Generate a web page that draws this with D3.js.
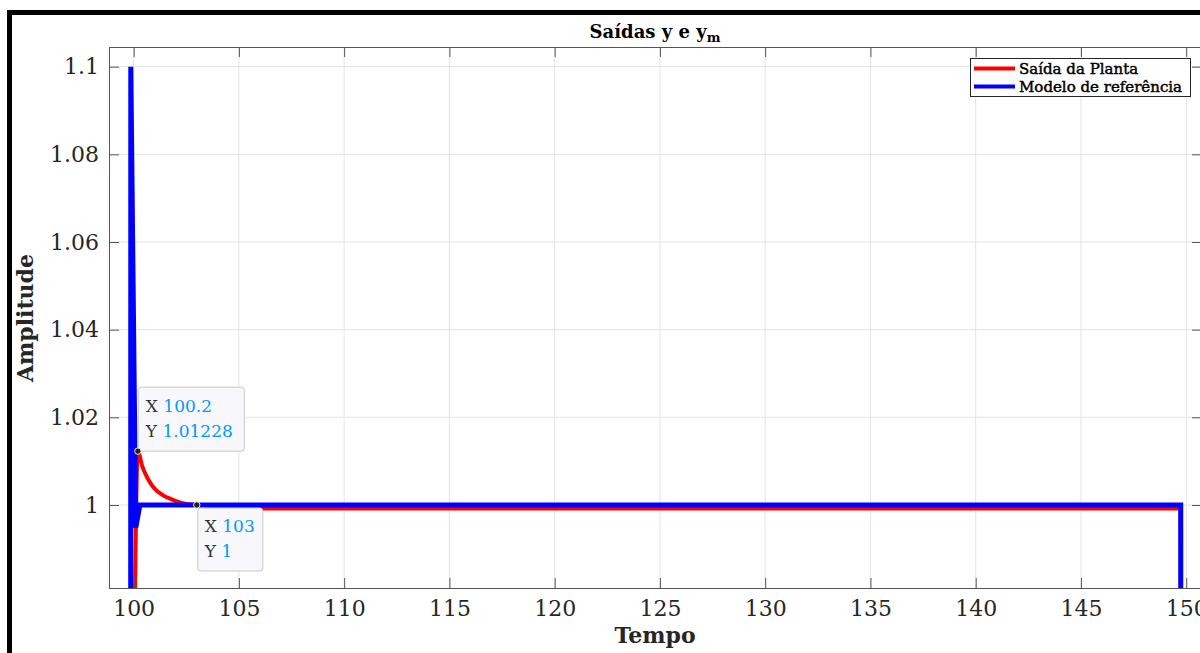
<!DOCTYPE html>
<html>
<head>
<meta charset="utf-8">
<script src="https://cdn.jsdelivr.net/npm/d3@7"></script>
<style>
  html, body { margin: 0; padding: 0; background: #fff; }
  svg { display: block; }
</style>
</head>
<body>
<svg id="chart" width="1200" height="653"></svg>
<script>
// ---- data ----
const plantTime  = [100.0, 100.2, 100.4, 100.6, 100.8, 101.0, 101.4, 101.8, 102.2, 102.6, 103.0, 104.0, 105.0, 106.0, 149.74, 149.745];
const plantValue = [0.95, 1.01228, 1.0090, 1.0067, 1.0050, 1.0037, 1.0022, 1.0013, 1.0006, 1.0002, 1.0, 0.9996, 0.9993, 0.9992, 0.9992, 0.95];
const refTime  = [99.86, 99.865, 100.1, 100.3, 149.74, 149.745];
const refValue = [0.95, 1.1, 0.9948, 1.0, 1.0, 0.95];
const xTicks = [100, 105, 110, 115, 120, 125, 130, 135, 140, 145, 150];
const yTicks = [1.0, 1.02, 1.04, 1.06, 1.08, 1.1];
const yTickLabels = ["1", "1.02", "1.04", "1.06", "1.08", "1.1"];
const seriesNames = ["Saída da Planta", "Modelo de referência"];
const seriesColors = ["#ff0000", "#0000ff"];
const tips = [
  { x: 100.2, y: 1.01228, xs: "100.2", ys: "1.01228" },
  { x: 103, y: 1, xs: "103", ys: "1" }
];

// ---- layout ----
const L = 109, R = 1202, T = 47, B = 588;
const svg = d3.select("#chart");
const x = d3.scaleLinear().domain([98.83, 150.75]).range([L, R]);
const y = d3.scaleLinear().domain([0.98106, 1.10449]).range([B, T]);
const serif = "'DejaVu Serif', serif";
const textCol = "#262626";
const axisCol = "#555";

// outer black frame (top + left)
svg.append("path")
  .attr("d", "M9.5,653 L9.5,12.5 L1200,12.5")
  .attr("fill", "none").attr("stroke", "#000").attr("stroke-width", 5);

// grid
const grid = svg.append("g");
grid.selectAll("line.gx").data(xTicks).join("line")
  .attr("x1", d => x(d)).attr("x2", d => x(d)).attr("y1", T).attr("y2", B)
  .attr("stroke", "#e3e3e3").attr("stroke-width", 1);
grid.selectAll("line.gy").data(yTicks).join("line")
  .attr("y1", d => y(d)).attr("y2", d => y(d)).attr("x1", L).attr("x2", R)
  .attr("stroke", "#e3e3e3").attr("stroke-width", 1);

// lines
svg.append("clipPath").attr("id", "clip").append("rect")
  .attr("x", L).attr("y", T).attr("width", R - L).attr("height", B - T);
const plantData = plantTime.map((t, i) => [t, plantValue[i]]);
const refData = refTime.map((t, i) => [t, refValue[i]]);
const lines = svg.append("g").attr("clip-path", "url(#clip)");
lines.append("path").datum(plantData)
  .attr("d", d3.line().x(d => x(d[0])).y(d => y(d[1])).curve(d3.curveMonotoneX))
  .attr("fill", "none").attr("stroke", seriesColors[0]).attr("stroke-width", 4)
  .attr("stroke-linejoin", "round");
lines.append("path").datum(refData)
  .attr("d", d3.line().x(d => x(d[0])).y(d => y(d[1])))
  .attr("fill", "none").attr("stroke", seriesColors[1]).attr("stroke-width", 5)
  .attr("stroke-linejoin", "miter");

// axes
function styleAxis(g) {
  g.select(".domain").remove();
  g.selectAll(".tick line").attr("stroke", axisCol);
  g.selectAll(".tick text").attr("fill", textCol)
    .style("font-family", serif).style("font-size", "22px");
}
svg.append("g").attr("transform", `translate(0,${B})`)
  .call(d3.axisBottom(x).tickValues(xTicks).tickSize(-10).tickPadding(12).tickFormat(d3.format("d")))
  .call(styleAxis);
svg.append("g").attr("transform", `translate(0,${T})`)
  .call(d3.axisTop(x).tickValues(xTicks).tickSize(-10).tickFormat(""))
  .call(styleAxis);
svg.append("g").attr("transform", `translate(${L},0)`)
  .call(d3.axisLeft(y).tickValues(yTicks).tickSize(-10).tickPadding(10).tickFormat((d, i) => yTickLabels[i]))
  .call(styleAxis);
svg.append("g").attr("transform", `translate(${R},0)`)
  .call(d3.axisRight(y).tickValues(yTicks).tickSize(-10).tickFormat(""))
  .call(styleAxis);

// box
svg.append("rect").attr("x", L + 0.5).attr("y", T + 0.5).attr("width", R - L).attr("height", B - T)
  .attr("fill", "none").attr("stroke", axisCol).attr("stroke-width", 1);

// title
const title = svg.append("text").attr("x", 655).attr("y", 38).attr("text-anchor", "middle")
  .attr("fill", "#000").style("font-family", serif).style("font-weight", "bold").style("font-size", "18px");
title.append("tspan").text("Saídas y e y");
title.append("tspan").text("m").attr("dy", 4).style("font-size", "13px");

// axis labels
svg.append("text").attr("x", 655).attr("y", 643).attr("text-anchor", "middle")
  .attr("fill", textCol).style("font-family", serif).style("font-weight", "bold").style("font-size", "22px")
  .text("Tempo");
svg.append("text").attr("transform", "translate(33,318) rotate(-90)").attr("text-anchor", "middle")
  .attr("fill", textCol).style("font-family", serif).style("font-weight", "bold").style("font-size", "22px")
  .text("Amplitude");

// legend
const lg = svg.append("g");
lg.append("rect").attr("x", 970.5).attr("y", 58.5).attr("width", 220).attr("height", 38)
  .attr("fill", "#fff").attr("stroke", "#262626").attr("stroke-width", 1);
seriesNames.forEach((n, i) => {
  const yy = 68.5 + i * 18;
  lg.append("line").attr("x1", 974).attr("x2", 1015).attr("y1", yy).attr("y2", yy)
    .attr("stroke", seriesColors[i]).attr("stroke-width", 4);
  lg.append("text").attr("x", 1019).attr("y", yy + 5.5).attr("fill", "#000")
    .attr("stroke", "#000").attr("stroke-width", 0.45)
    .style("font-family", serif).style("font-size", "15px").text(n);
});

// data tips
const tipCfg = [
  { bx: 0.5, by: -64, w: 106, h: 64, t1: -39, t2: -14 },
  { bx: 1, by: 3, w: 65, h: 63, t1: 27, t2: 52 }
];
tips.forEach((tp, i) => {
  const px = x(tp.x), py = y(tp.y), c = tipCfg[i];
  const g = svg.append("g");
  g.append("rect").attr("x", px + c.bx).attr("y", py + c.by).attr("width", c.w).attr("height", c.h)
    .attr("rx", 3).attr("fill", "#f8f8fc").attr("stroke", "#c8c8c8").attr("stroke-width", 1);
  [[ "X", tp.xs, c.t1 ], [ "Y", tp.ys, c.t2 ]].forEach(([lab, val, dy]) => {
    const t = g.append("text").attr("x", px + 8).attr("y", py + dy)
      .style("font-family", serif).style("font-size", "17px");
    t.append("tspan").attr("fill", "#333").text(lab + " ");
    t.append("tspan").attr("fill", "#0099ff").text(val);
  });
  svg.append("circle").attr("cx", px).attr("cy", py).attr("r", 3.2)
    .attr("fill", "#222").attr("stroke", "#e8e8d0").attr("stroke-width", 1);
});
</script>
</body>
</html>
